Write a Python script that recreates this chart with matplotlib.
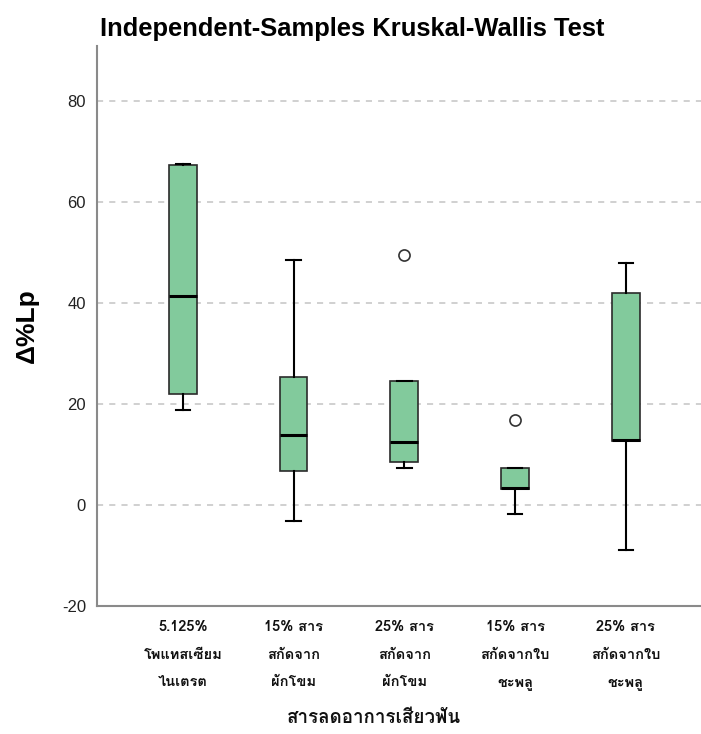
import matplotlib
matplotlib.use("Agg")
import matplotlib.pyplot as plt

# values (Δ%Lp)
groups = ["5.125%\nโพแทสเซียม\nไนเตรต",
          "15% สาร\nสกัดจาก\nผักโขม",
          "25% สาร\nสกัดจาก\nผักโขม",
          "15% สาร\nสกัดจากใบ\nชะพลู",
          "25% สาร\nสกัดจากใบ\nชะพลู"]
whisker_low = [18.7, -3.2, 7.4, -1.8, -9.0]
q1 = [21.9, 6.7, 8.5, 3.1, 12.7]
medians = [41.4, 13.9, 12.5, 3.3, 12.9]
q3 = [67.2, 25.3, 24.6, 7.3, 42.0]
whisker_high = [67.4, 48.5, 24.6, 7.3, 47.8]
outliers = [[], [], [49.5], [16.8], []]

y_ticks = [-20, 0, 20, 40, 60, 80]

THAI = ["Loma", "DejaVu Sans"]
LATIN = ["Liberation Sans", "DejaVu Sans"]

stats = []
for i, g in enumerate(groups):
    stats.append({
        "label": g,
        "whislo": whisker_low[i],
        "q1": q1[i],
        "med": medians[i],
        "q3": q3[i],
        "whishi": whisker_high[i],
        "fliers": outliers[i],
    })

fig = plt.figure(figsize=(7.01, 7.34), dpi=100)
ax = fig.add_axes([0.1384, 0.1744, 0.8616, 0.7633])

ax.bxp(stats, positions=range(1, len(groups) + 1), widths=0.25, patch_artist=True,
       showcaps=True,
       boxprops=dict(facecolor="#82ca9c", edgecolor="#2b2b2b", linewidth=1.2),
       medianprops=dict(color="black", linewidth=2.2, solid_capstyle="butt"),
       whiskerprops=dict(color="black", linewidth=1.5),
       capprops=dict(color="black", linewidth=1.5),
       capwidths=0.13,
       flierprops=dict(marker="o", markerfacecolor="white", markeredgecolor="#333333",
                       markersize=8, markeredgewidth=1.2))

ax.set_xlim(0.224, 5.68)
ax.set_ylim(-20, 90.9)
ax.set_yticks(y_ticks)
ax.set_yticklabels([str(t) for t in y_ticks], family=LATIN, fontsize=12, color="#222222")
ax.set_xticklabels(groups, family=THAI, fontsize=10.5, fontweight="bold",
                   linespacing=2.25, color="#111111")
ax.tick_params(axis="both", length=0)
ax.tick_params(axis="x", pad=10)
ax.tick_params(axis="y", pad=8)

for t in y_ticks[1:]:
    ax.axhline(t, color="#c4c4c4", linewidth=1.1, linestyle=(0, (4, 4)), zorder=0)

for side in ["top", "right"]:
    ax.spines[side].set_visible(False)
for side in ["left", "bottom"]:
    ax.spines[side].set_color("#8a8a8a")
    ax.spines[side].set_linewidth(1.5)

fig.text(0.143, 0.960, "Independent-Samples Kruskal-Wallis Test", family=LATIN,
         fontsize=18.4, fontweight="bold", ha="left", va="center")
fig.text(0.038, 0.557, "Δ%Lp", family=LATIN, fontsize=19, fontweight="bold",
         rotation=90, ha="center", va="center")
fig.text(0.534, 0.022, "สารลดอาการเสียวฟัน", family=THAI, fontsize=13.5,
         fontweight="bold", ha="center", va="center", color="#111111")

fig.savefig("out.png", dpi=100)
